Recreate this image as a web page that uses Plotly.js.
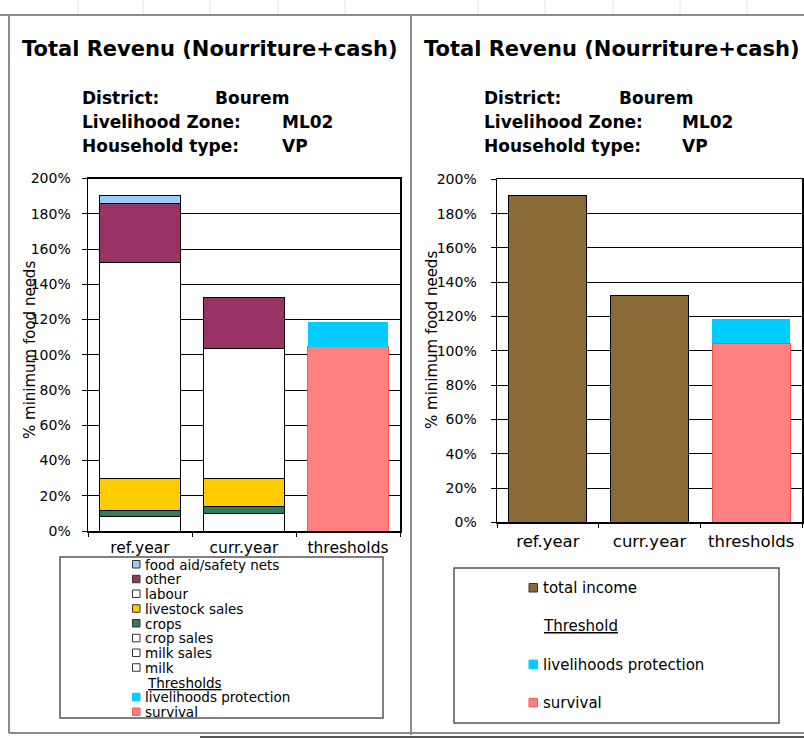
<!DOCTYPE html>
<html>
<head>
<meta charset="utf-8">
<script src="https://cdn.plot.ly/plotly-3.0.1.min.js"></script>
<style>html,body{margin:0;padding:0;background:#fff;}#chart{width:804px;height:738px;}</style>
</head>
<body>
<div id="chart"></div>
<script>
// ---------- data ----------
const categories = ['ref.year', 'curr.year', 'thresholds'];
const milk = [8, 10, null];
const milkSales = [0, 0, null];
const cropSales = [0, 0, null];
const crops = [3.5, 3.8, null];
const livestockSales = [18.5, 16, null];
const labour = [122.5, 74, null];
const other = [33.5, 28.7, null];
const foodAid = [4.5, 0, null];
const survival = [null, null, 104.5];
const livelihoodsProtection = [null, null, 14.3];
const totalIncome = [190.5, 132.5, null];
const yTickValues = [0, 20, 40, 60, 80, 100, 120, 140, 160, 180, 200];
const yTickLabels = ['0%', '20%', '40%', '60%', '80%', '100%', '120%', '140%', '160%', '180%', '200%'];

const titleText = 'Total Revenu (Nourriture+cash)';
const infoLabels = ['District:', 'Livelihood Zone:', 'Household type:'];
const infoValues = ['Bourem', 'ML02', 'VP'];
const yTitle = '% minimum food needs';

// stacking order bottom -> top
const incomeNames = ['milk', 'milk sales', 'crop sales', 'crops', 'livestock sales', 'labour', 'other', 'food aid/safety nets'];
const incomeValues = [milk, milkSales, cropSales, crops, livestockSales, labour, other, foodAid];
const incomeColors = ['#FFFFFF', '#FFFFFF', '#FFFFFF', '#2F7D52', '#FFCC00', '#FFFFFF', '#993366', '#99CCFF'];
const threshNames = ['survival', 'livelihoods protection'];
const threshValues = [survival, livelihoodsProtection];
const threshColors = ['#FF8080', '#00CCFF'];
const threshLines = ['#FF5050', 'rgba(0,0,0,0)'];
const totalName = 'total income';
const totalColor = '#8A6A35';

// ---------- helpers ----------
const W = 804, H = 738;
const px = x => x / W;
const py = y => 1 - y / H;
const FONT = 'DejaVu Sans';

const traces = [];
incomeNames.forEach((n, i) => {
  traces.push({type: 'bar', x: categories, y: incomeValues[i], name: n, xaxis: 'x', yaxis: 'y',
    marker: {color: incomeColors[i], line: {color: '#000', width: 1}}, hoverinfo: 'skip'});
});
threshNames.forEach((n, i) => {
  traces.push({type: 'bar', x: categories, y: threshValues[i], name: n, xaxis: 'x', yaxis: 'y',
    marker: {color: threshColors[i], line: {color: threshLines[i], width: 1}}, hoverinfo: 'skip'});
});
traces.push({type: 'bar', x: categories, y: totalIncome, name: totalName, xaxis: 'x2', yaxis: 'y2',
  marker: {color: totalColor, line: {color: '#000', width: 1}}, hoverinfo: 'skip'});
threshNames.forEach((n, i) => {
  traces.push({type: 'bar', x: categories, y: threshValues[i], name: n, xaxis: 'x2', yaxis: 'y2',
    marker: {color: threshColors[i], line: {color: threshLines[i], width: 1}}, hoverinfo: 'skip'});
});

const shapes = [];
const annotations = [];
function line(x0, y0, x1, y1, color, width) {
  shapes.push({type: 'line', xref: 'paper', yref: 'paper', x0: px(x0), y0: py(y0), x1: px(x1), y1: py(y1),
    line: {color: color, width: width}, layer: 'above'});
}
function rect(x0, y0, x1, y1, fill, lc, lw) {
  shapes.push({type: 'rect', xref: 'paper', yref: 'paper', x0: px(x0), y0: py(y0), x1: px(x1), y1: py(y1),
    fillcolor: fill, line: {color: lc, width: lw}, layer: 'above'});
}
function text(t, x, y, size, opts) {
  opts = opts || {};
  annotations.push(Object.assign({xref: 'paper', yref: 'paper', x: px(x), y: py(y), text: t, showarrow: false,
    xanchor: 'left', yanchor: 'middle',
    font: {family: FONT, size: size, color: '#000', weight: opts.bold ? 'bold' : 'normal'}}, opts.extra || {}));
}

// spreadsheet frame
[78, 143, 210, 278, 345, 478, 545, 613, 680, 747].forEach(x => line(x, 0, x, 14, '#e4e4e4', 1));
line(0, 15, W, 15, '#8a8a8a', 2);
line(9, 15, 9, 733, '#8a8a8a', 2);
line(411, 15, 411, 735, '#8a8a8a', 2);
line(9, 733, W, 733, '#8a8a8a', 2);
line(200, 737, W, 737, '#555', 2);

// titles and info
[[20, 80, 213, 280], [422, 482, 617, 680]].forEach(p => {
  text(titleText, p[0], 49, 21, {bold: true});
  const ys = [98, 122, 146];
  infoLabels.forEach((l, i) => text(l, p[1], ys[i], 17, {bold: true}));
  text(infoValues[0], p[2], ys[0], 17, {bold: true});
  text(infoValues[1], p[3], ys[1], 17, {bold: true});
  text(infoValues[2], p[3], ys[2], 17, {bold: true});
});
text(yTitle, 30, 350, 15, {extra: {textangle: -90, xanchor: 'center'}});
text(yTitle, 432, 340, 15, {extra: {textangle: -90, xanchor: 'center'}});

// left legend (manual, Excel style)
rect(60, 557, 383, 718, 'rgba(0,0,0,0)', '#555', 1.5);
const leftRows = [];
for (let i = incomeNames.length - 1; i >= 0; i--) leftRows.push({name: incomeNames[i], color: incomeColors[i], lc: '#333'});
leftRows.push({header: 'Thresholds'});
leftRows.push({name: threshNames[1], color: threshColors[1], lc: threshColors[1]});
leftRows.push({name: threshNames[0], color: threshColors[0], lc: threshLines[0]});
leftRows.forEach((r, i) => {
  const y = 564.5 + i * 14.75;
  if (r.header) { text('<u>' + r.header + '</u>', 145, y, 13.5); return; }
  rect(132.5, y - 4, 140, y + 3.5, r.color, r.lc, 1);
  text(r.name, 143, y, 13.5);
});

// right legend
rect(454, 568, 779, 723, 'rgba(0,0,0,0)', '#555', 1.5);
const rightRows = [
  {name: totalName, color: totalColor, lc: '#333'},
  {header: 'Threshold'},
  {name: threshNames[1], color: threshColors[1], lc: threshColors[1]},
  {name: threshNames[0], color: threshColors[0], lc: threshLines[0]}
];
rightRows.forEach((r, i) => {
  const y = 588 + i * 38.3;
  if (r.header) { text('<u>' + r.header + '</u>', 541, y, 15); return; }
  rect(529, y - 4.5, 537.5, y + 4, r.color, r.lc, 1);
  text(r.name, 541, y, 15);
});

const xBase = {type: 'category', showline: true, linecolor: '#000', linewidth: 1.5, mirror: true,
  ticks: 'outside', tickson: 'boundaries', ticklen: 4, tickcolor: '#000', showgrid: false, fixedrange: true};
const yBase = {range: [0, 200], tickvals: yTickValues, ticktext: yTickLabels, showline: true, linecolor: '#000',
  linewidth: 1.5, mirror: true, ticks: 'outside', ticklen: 5, tickcolor: '#000', showgrid: true, gridcolor: '#000',
  gridwidth: 1, zeroline: false, fixedrange: true, tickfont: {family: FONT, size: 14, color: '#000'}};

const layout = {
  width: W, height: H, margin: {l: 0, r: 0, t: 0, b: 0},
  paper_bgcolor: '#fff', plot_bgcolor: '#fff',
  barmode: 'stack', bargap: 0.23, showlegend: false,
  xaxis: Object.assign({}, xBase, {domain: [px(88), px(400)], anchor: 'y',
    tickfont: {family: FONT, size: 15.5, color: '#000'}, ticklabelstandoff: 2}),
  yaxis: Object.assign({}, yBase, {domain: [py(531), py(178.5)], anchor: 'x', ticklabelstandoff: 8}),
  xaxis2: Object.assign({}, xBase, {domain: [px(497), px(802)], anchor: 'y2',
    tickfont: {family: FONT, size: 16.5, color: '#000'}, ticklabelstandoff: 3}),
  yaxis2: Object.assign({}, yBase, {domain: [py(522.3), py(179.3)], anchor: 'x2', ticklabelstandoff: 11}),
  shapes: shapes, annotations: annotations
};

Plotly.newPlot('chart', traces, layout, {staticPlot: true, displayModeBar: false});
</script>
</body>
</html>
